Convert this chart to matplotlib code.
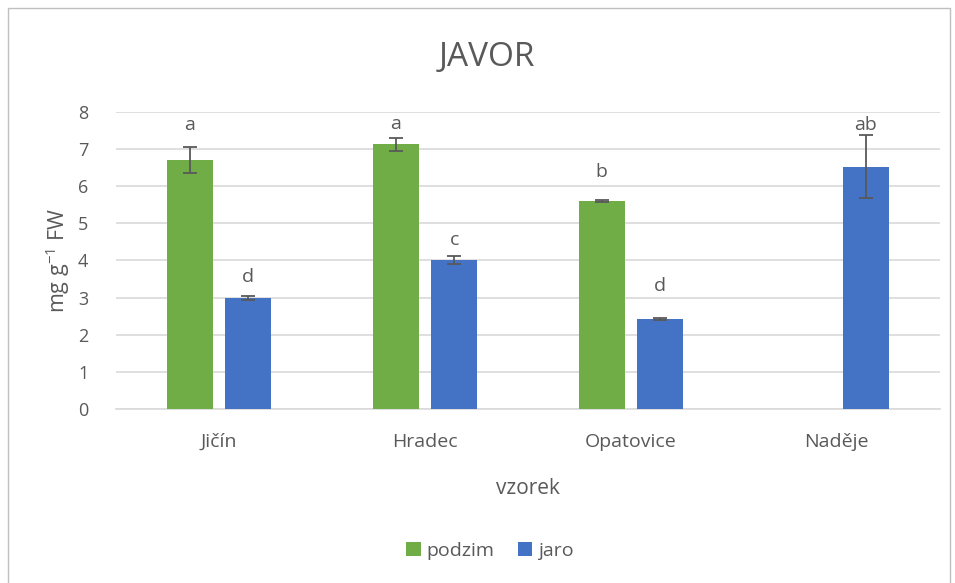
import matplotlib.pyplot as plt
import numpy as np
from matplotlib.patches import Rectangle

plt.rcParams["font.family"] = ["Open Sans", "DejaVu Sans"]
plt.rcParams["mathtext.fontset"] = "custom"
plt.rcParams["mathtext.rm"] = "Open Sans"

categories = ["Jičín", "Hradec", "Opatovice", "Naděje"]
podzim = [6.70, 7.13, 5.60, np.nan]
podzim_err = [0.35, 0.17, 0.02, 0.0]
jaro = [2.99, 4.01, 2.42, 6.53]
jaro_err = [0.06, 0.10, 0.02, 0.86]
podzim_letters = ["a", "a", "b", ""]
jaro_letters = ["d", "c", "d", "ab"]
podzim_letter_y = [7.65, 7.68, 6.39, np.nan]
jaro_letter_y = [3.55, 4.55, 3.32, 7.65]

GREEN = "#70ad47"
BLUE = "#4472c4"
TEXT = "#595959"
GRID = "#d9d9d9"


def main():
    fig = plt.figure(figsize=(9.55, 5.83), dpi=100)
    ax = fig.add_axes([0.1215, 0.2985, 0.8625, 0.5095])

    x = np.arange(len(categories))
    width = 0.223
    off = 0.142
    err_kw = dict(ecolor="#595959", elinewidth=1.3, capsize=5, capthick=1.3)

    ax.bar(x - off, podzim, width, yerr=podzim_err, color=GREEN, label="podzim",
           error_kw=err_kw, zorder=3)
    ax.bar(x + off, jaro, width, yerr=jaro_err, color=BLUE, label="jaro",
           error_kw=err_kw, zorder=3)

    # letters of significance groups
    for i in range(len(categories)):
        if podzim_letters[i]:
            ax.text(x[i] - off, podzim_letter_y[i], podzim_letters[i], ha="center",
                    va="center", fontsize=14, color=TEXT, zorder=4)
        if jaro_letters[i]:
            ax.text(x[i] + off, jaro_letter_y[i], jaro_letters[i], ha="center",
                    va="center", fontsize=14, color=TEXT, zorder=4)

    ax.set_xlim(-0.5, len(categories) - 0.5)
    ax.set_ylim(0, 8)
    ax.set_yticks(range(0, 9))
    ax.set_xticks(x)
    ax.set_xticklabels(categories)
    ax.tick_params(axis="x", length=0, labelsize=14, colors=TEXT, pad=17)
    ax.tick_params(axis="y", length=0, labelsize=13, colors=TEXT, pad=20)
    ax.grid(axis="y", color=GRID, linewidth=1.2, zorder=0)
    for s in ["top", "right", "left"]:
        ax.spines[s].set_visible(False)
    ax.spines["bottom"].set_color(GRID)
    ax.spines["bottom"].set_linewidth(1.2)

    fig.text(0.51, 0.902, "JAVOR", fontsize=24, color=TEXT, ha="center", va="center")
    ax.set_xlabel("vzorek", fontsize=15, color=TEXT, labelpad=20)
    ax.set_ylabel("mg g$^{-1}$ FW", fontsize=15.5, color=TEXT, labelpad=4)

    leg = fig.legend(loc="center", bbox_to_anchor=(0.513, 0.055), ncol=2,
                     frameon=False, fontsize=14, handlelength=0.75,
                     handleheight=0.75, handletextpad=0.3, columnspacing=1.2)
    for t in leg.get_texts():
        t.set_color(TEXT)

    fig.patches.append(Rectangle((8 / 955, -0.01), 942 / 955, 1 - 8 / 583 + 0.01,
                                 transform=fig.transFigure, fill=False,
                                 edgecolor="#bfbfbf", linewidth=1))

    fig.savefig("out.png", dpi=100)


if __name__ == "__main__":
    main()
